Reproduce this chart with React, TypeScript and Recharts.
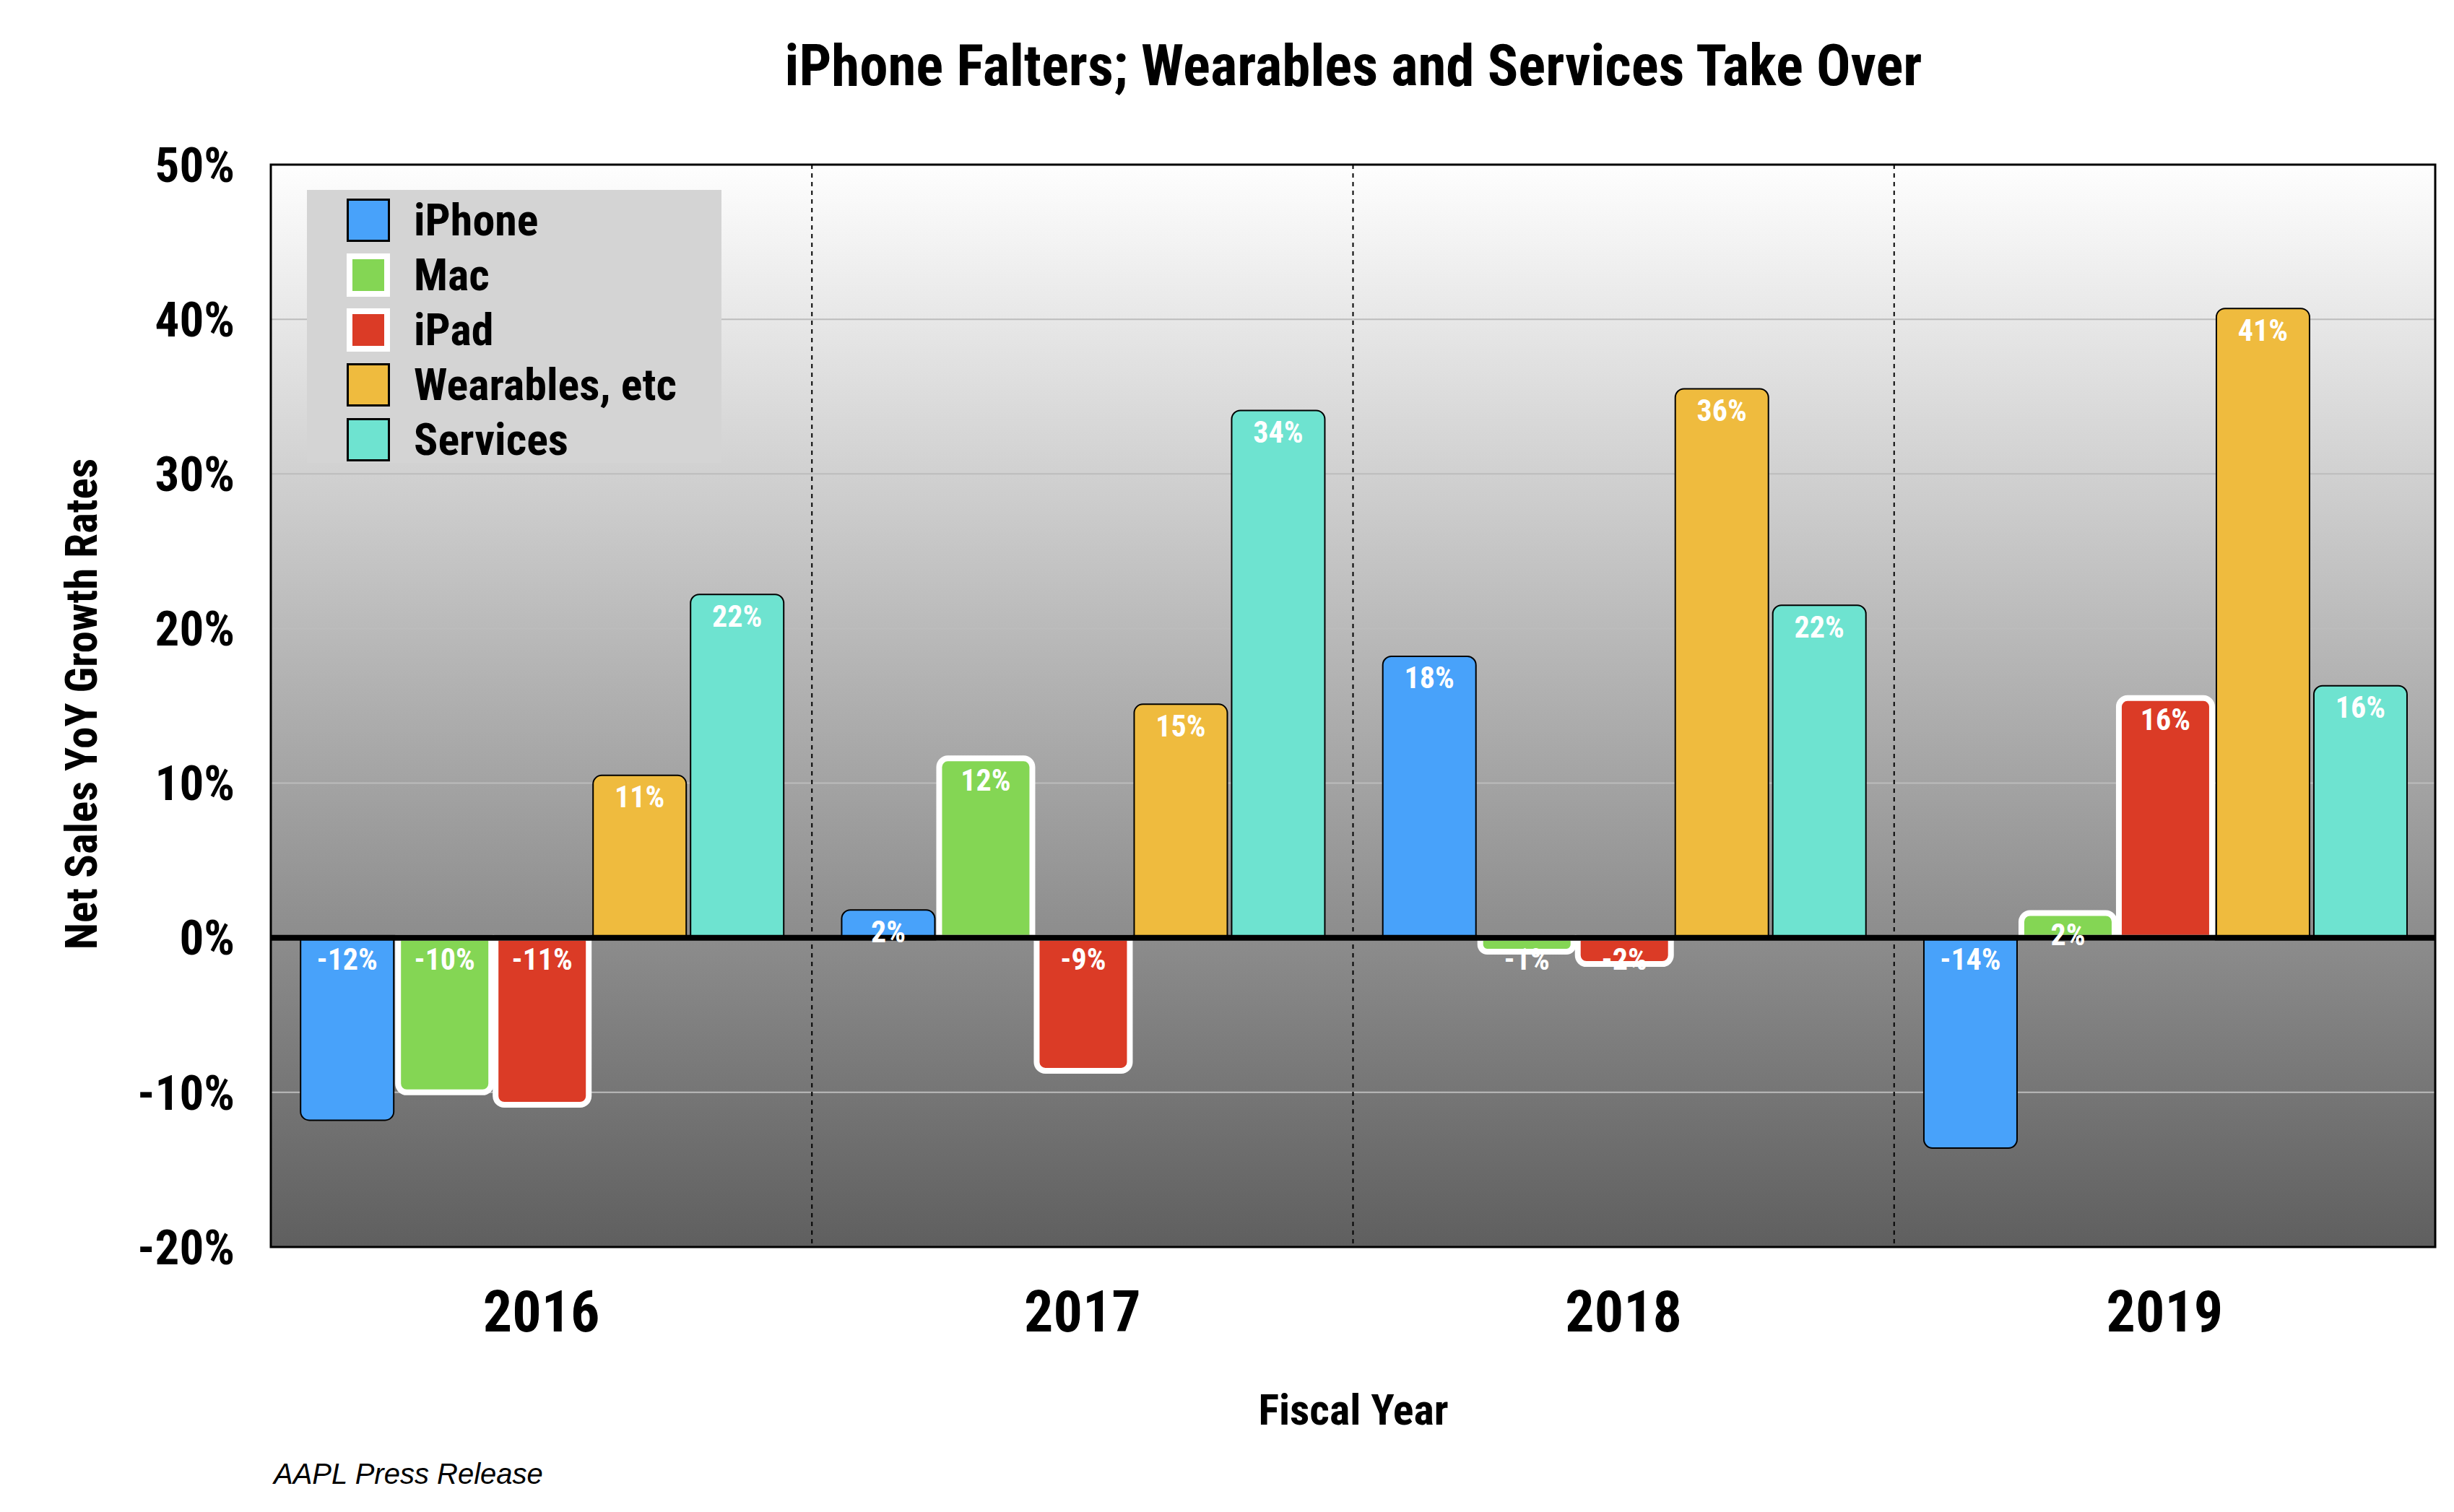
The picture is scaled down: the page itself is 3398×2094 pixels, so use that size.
import React from "react";
import {
  BarChart,
  Bar,
  XAxis,
  YAxis,
  CartesianGrid,
  ReferenceLine,
  ReferenceArea,
  Legend,
  LabelList,
} from "recharts";

// values (YoY growth, %)
const YEARS = ["2016", "2017", "2018", "2019"];
const IPHONE = [-11.8, 1.8, 18.2, -13.6];
const MAC = [-10.0, 11.6, -0.9, 1.6];
const IPAD = [-10.8, -8.6, -1.7, 15.5];
const WEARABLES = [10.5, 15.1, 35.5, 40.7];
const SERVICES = [22.2, 34.1, 21.5, 16.3];
const Y_TICKS = [-20, -10, 0, 10, 20, 30, 40, 50];

const data = YEARS.map((year, i) => ({
  year,
  iphone: IPHONE[i],
  mac: MAC[i],
  ipad: IPAD[i],
  wearables: WEARABLES[i],
  services: SERVICES[i],
}));

const SERIES = [
  { key: "iphone", name: "iPhone", fill: "#48a2fa", stroke: "#000", strokeWidth: 2 },
  { key: "mac", name: "Mac", fill: "#84d654", stroke: "#fff", strokeWidth: 8 },
  { key: "ipad", name: "iPad", fill: "#db3b26", stroke: "#fff", strokeWidth: 8 },
  { key: "wearables", name: "Wearables, etc", fill: "#efbb3e", stroke: "#000", strokeWidth: 2 },
  { key: "services", name: "Services", fill: "#6ee3d0", stroke: "#000", strokeWidth: 2 },
];

// Roboto is a variable font here, so font-stretch gives a condensed cut
const FONT = "Roboto, 'DejaVu Sans Condensed', sans-serif";

function ValueLabel(props: any) {
  const { x, y, width, height, value } = props;
  const top = Math.min(Number(y), Number(y) + Number(height));
  return (
    <text
      x={Number(x) + Number(width) / 2}
      y={top + 30}
      textAnchor="middle"
      dominantBaseline="central"
      fill="#fff"
      fontWeight={700}
      fontSize={42}
    >
      {Math.round(Number(value))}%
    </text>
  );
}

function LegendBox() {
  return (
    <div
      style={{
        background: "#d4d4d4",
        width: 574,
        height: 378,
        boxSizing: "border-box",
        paddingLeft: 55,
        paddingTop: 4,
      }}
    >
      {SERIES.map((s) => (
        <div
          key={s.key}
          style={{ display: "flex", alignItems: "center", height: 76 }}
        >
          <div
            style={{
              width: 60,
              height: 60,
              flex: "none",
              boxSizing: "border-box",
              background: s.fill,
              border: s.stroke === "#fff" ? "8px solid #fff" : "3px solid #000",
            }}
          />
          <span
            style={{
              marginLeft: 33,
              fontWeight: 700,
              fontSize: 62,
              lineHeight: 1,
              color: "#000",
              whiteSpace: "nowrap",
            }}
          >
            {s.name}
          </span>
        </div>
      ))}
    </div>
  );
}

const overlayText: React.CSSProperties = {
  position: "absolute",
  fontWeight: 700,
  color: "#000",
  lineHeight: 1,
  whiteSpace: "nowrap",
  transform: "translate(-50%, -50%)",
};

export default function App() {
  return (
    <div
      style={{
        position: "absolute",
        left: 0,
        top: 0,
        width: 3398,
        height: 2094,
        background: "#fff",
        fontFamily: FONT,
        fontStretch: "condensed",
      }}
    >
      <BarChart
        width={3398}
        height={2094}
        data={data}
        margin={{ top: 228, right: 26, bottom: 247, left: 175 }}
        barGap={6}
        barCategoryGap="5.5%"
      >
        <defs>
          <linearGradient id="plotBg" x1="0" y1="0" x2="0" y2="1">
            <stop offset="0%" stopColor="#fefefe" />
            <stop offset="100%" stopColor="#5f5f5f" />
          </linearGradient>
        </defs>
        <CartesianGrid
          vertical={false}
          stroke="#bcbcbc"
          strokeWidth={2}
          fill="url(#plotBg)"
          fillOpacity={1}
        />
        <CartesianGrid
          horizontal={false}
          stroke="#000"
          strokeWidth={2}
          strokeDasharray="6 6"
          verticalCoordinatesGenerator={({ offset }: any) =>
            YEARS.slice(1).map((_, i) => offset.left + (offset.width * (i + 1)) / YEARS.length)
          }
        />
        <XAxis
          dataKey="year"
          axisLine={false}
          tickLine={false}
          tickSize={0}
          tickMargin={60}
          height={120}
          tick={{ fontSize: 80, fontWeight: 700, fill: "#000" }}
        />
        <YAxis
          domain={[-20, 50]}
          ticks={Y_TICKS}
          axisLine={false}
          tickLine={false}
          tickSize={0}
          tickMargin={50}
          width={200}
          tickFormatter={(v: number) => `${v}%`}
          tick={{ fontSize: 67, fontWeight: 700, fill: "#000" }}
        />
        <Legend
          layout="vertical"
          align="center"
          verticalAlign="middle"
          content={() => <LegendBox />}
          wrapperStyle={{ position: "absolute", left: 425, top: 263, width: 574, height: 378 }}
        />
        {SERIES.map((s) => (
          <Bar
            key={s.key}
            dataKey={s.key}
            name={s.name}
            fill={s.fill}
            stroke={s.stroke}
            strokeWidth={s.strokeWidth}
            radius={[12, 12, 0, 0]}
            isAnimationActive={false}
          >
            <LabelList dataKey={s.key} content={ValueLabel} />
          </Bar>
        ))}
        <ReferenceLine y={0} stroke="#000" strokeWidth={8} />
        <ReferenceArea y1={-20} y2={50} fill="none" stroke="#000" strokeWidth={3} />
      </BarChart>

      <div style={{ ...overlayText, left: 1874, top: 91, fontSize: 79 }}>
        iPhone Falters; Wearables and Services Take Over
      </div>
      <div style={{ ...overlayText, left: 1874, top: 1953, fontSize: 60 }}>Fiscal Year</div>
      <div
        style={{
          ...overlayText,
          left: 113,
          top: 975,
          fontSize: 61,
          transform: "translate(-50%, -50%) rotate(-90deg)",
        }}
      >
        Net Sales YoY Growth Rates
      </div>
      <div
        style={{
          position: "absolute",
          left: 379,
          top: 2041,
          transform: "translateY(-50%)",
          fontFamily: "'Liberation Sans', Arial, sans-serif",
          fontStretch: "normal",
          fontStyle: "italic",
          fontSize: 40,
          lineHeight: 1,
          color: "#000",
          whiteSpace: "nowrap",
        }}
      >
        AAPL Press Release
      </div>
    </div>
  );
}
